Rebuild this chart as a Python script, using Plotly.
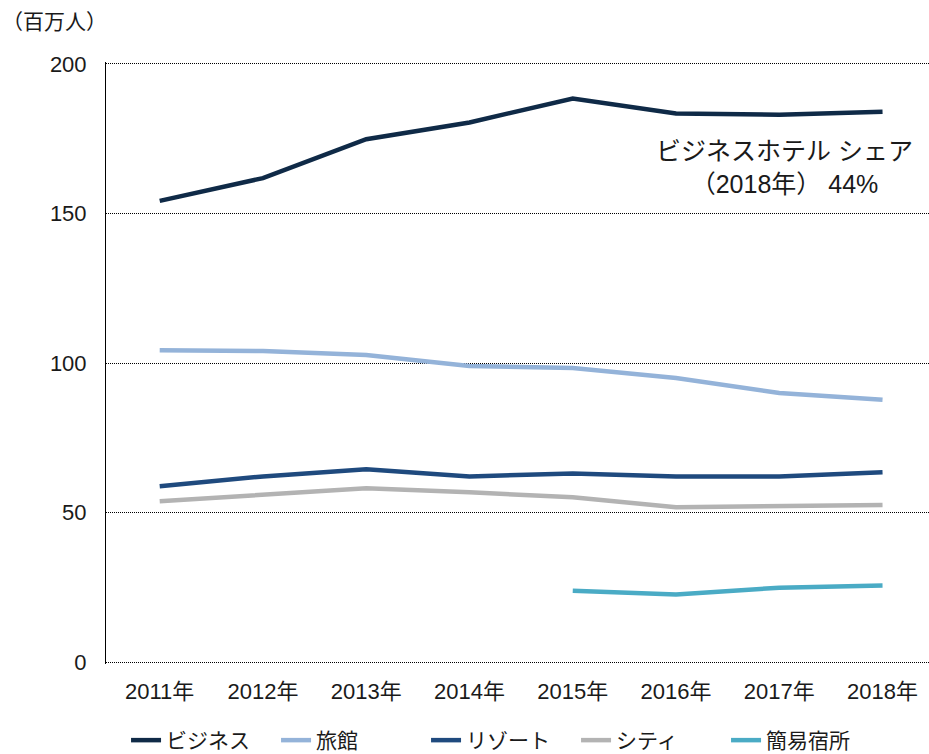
import plotly.graph_objects as go

years = ["2011年", "2012年", "2013年", "2014年", "2015年", "2016年", "2017年", "2018年"]
x_idx = list(range(len(years)))

business = [154.2, 161.8, 174.8, 180.4, 188.4, 183.4, 183.0, 184.0]
ryokan = [104.3, 104.0, 102.7, 99.0, 98.3, 95.0, 90.0, 87.7]
resort = [58.8, 62.1, 64.5, 62.1, 63.1, 62.1, 62.1, 63.5]
city = [53.8, 55.8, 58.1, 56.8, 55.1, 51.8, 52.2, 52.5]
simple = [None, None, None, None, 23.9, 22.6, 24.9, 25.6]

series_names = ["ビジネス", "旅館", "リゾート", "シティ", "簡易宿所"]
series_values = [business, ryokan, resort, city, simple]
series_colors = ["#0f2a47", "#94b3d9", "#1f4a7e", "#b3b3b3", "#4aabc5"]

y_ticks = [0, 50, 100, 150, 200]

FONT = "Liberation Sans, Arial, Noto Sans CJK JP, sans-serif"

fig = go.Figure()
for name, vals, col in zip(series_names, series_values, series_colors):
    fig.add_trace(go.Scatter(
        x=x_idx, y=vals, name=name, mode="lines",
        line=dict(color=col, width=4.5),
        connectgaps=False,
    ))

fig.add_annotation(
    x=6.05, y=165.5, xref="x", yref="y",
    text="ビジネスホテル シェア<br>（2018年） 44%",
    showarrow=False, align="center",
    font=dict(size=25, color="#1a1a1a", family=FONT),
)

fig.add_annotation(
    x=0, y=1, xref="paper", yref="paper",
    xanchor="left", yanchor="bottom",
    xshift=-106, yshift=27,
    text="（百万人）", showarrow=False,
    font=dict(size=21, color="#1a1a1a", family=FONT),
)

fig.update_layout(
    width=929, height=754,
    margin=dict(l=106, r=0, t=62, b=90, autoexpand=False),
    paper_bgcolor="white", plot_bgcolor="white",
    font=dict(family=FONT, size=20, color="#1a1a1a"),
    showlegend=True,
    legend=dict(
        orientation="h", x=0.48, xanchor="center",
        y=-0.093, yanchor="top",
        font=dict(size=21, color="#1a1a1a"),
        itemwidth=30, tracegroupgap=0,
        entrywidth=105, entrywidthmode="pixels",
    ),
    xaxis=dict(
        range=[-0.52, 7.45],
        tickmode="array", tickvals=x_idx, ticktext=years,
        showgrid=False, zeroline=False, showline=False,
        ticks="", ticklabelstandoff=12, tickfont=dict(size=22), automargin=False,
        fixedrange=True,
    ),
    yaxis=dict(
        range=[-0.6, 200.6], tickmode="array", tickvals=y_ticks,
        showgrid=True, gridcolor="#000000", gridwidth=1, griddash="1px,1px",
        zeroline=False,
        showline=True, linecolor="#000000", linewidth=1,
        ticks="", ticklabelstandoff=14, tickfont=dict(size=22),
        automargin=False,
    ),
)

fig.write_html(
    "out.html",
    config={"displayModeBar": False},
    post_script="document.body.style.margin='0';document.body.style.padding='0';",
)
